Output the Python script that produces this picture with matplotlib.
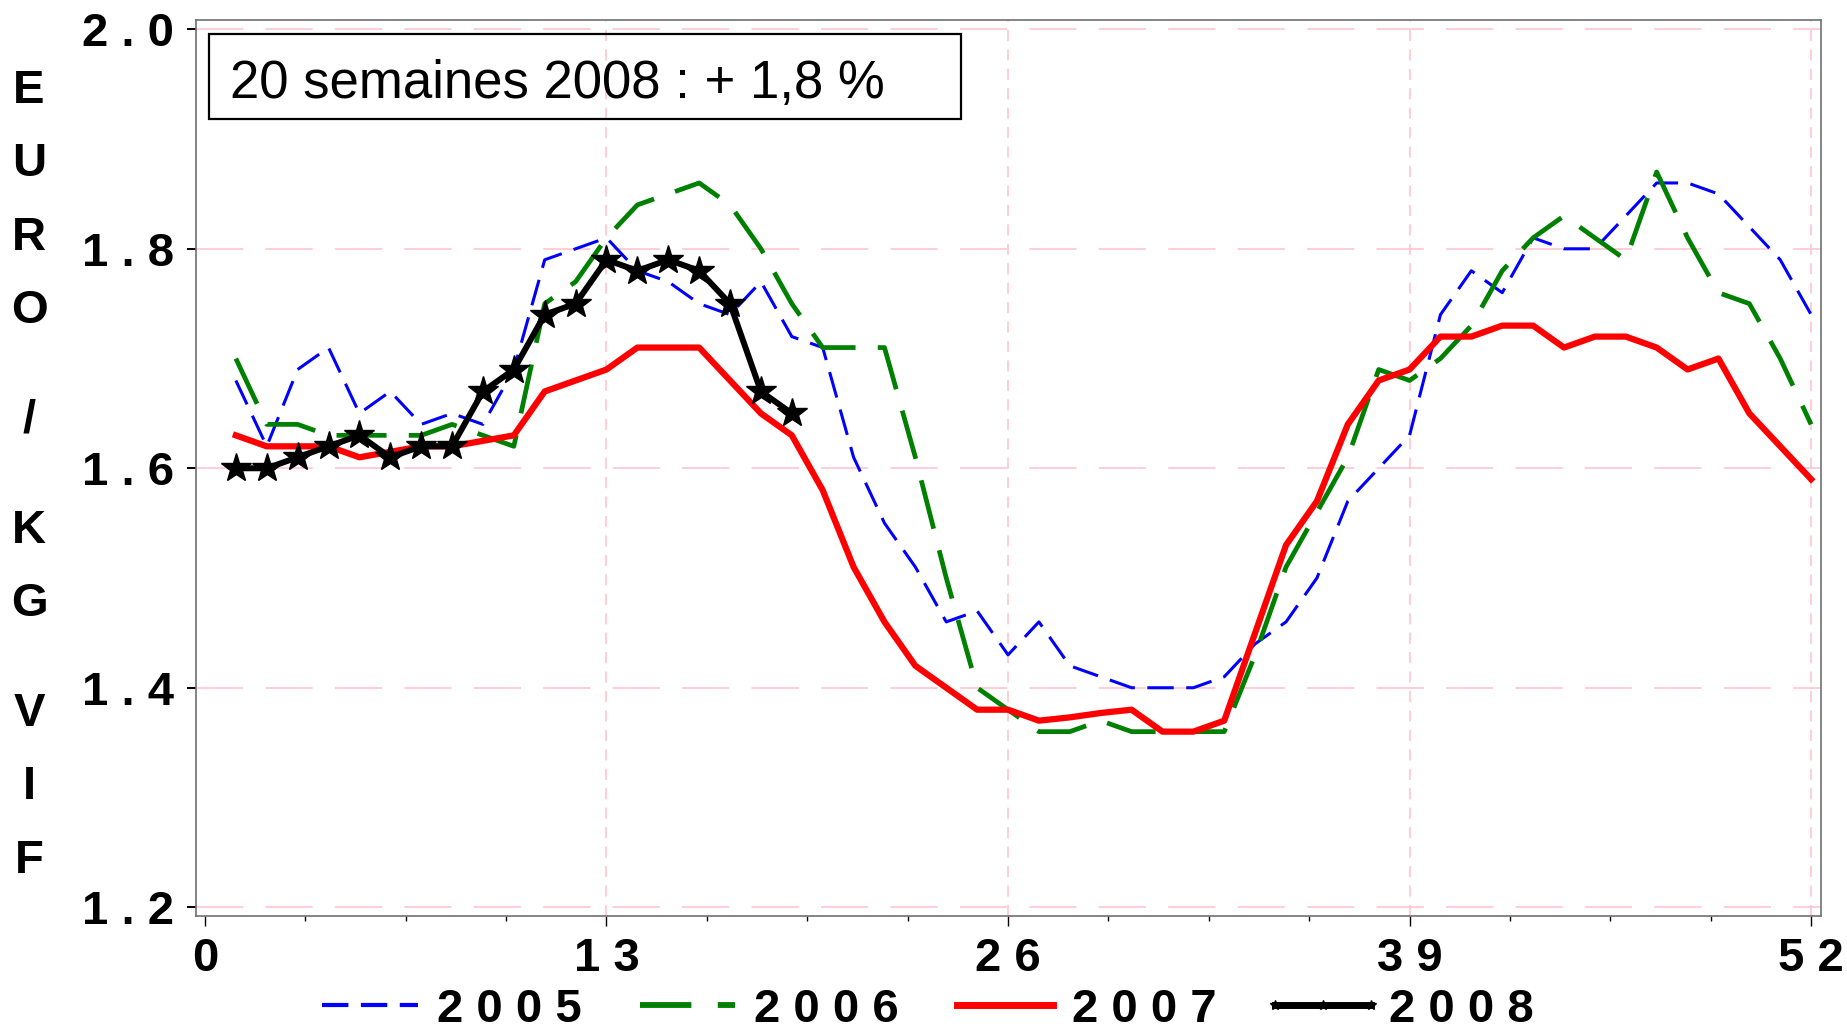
import matplotlib
matplotlib.use("Agg")
import matplotlib.pyplot as plt
from matplotlib.lines import Line2D
from matplotlib.patches import Rectangle
from matplotlib.ticker import MultipleLocator

plt.rcParams['lines.scale_dashes'] = False
plt.rcParams['font.family'] = ['Liberation Sans', 'DejaVu Sans']

# ---------------- data ----------------
weeks = list(range(1, 53))
weeks_2008 = list(range(1, 20))

v2005 = [1.68, 1.62, 1.69, 1.71, 1.65, 1.67, 1.64, 1.65, 1.64, 1.69,
         1.79, 1.80, 1.81, 1.78, 1.77, 1.75, 1.74, 1.77, 1.72, 1.71,
         1.61, 1.55, 1.51, 1.46, 1.47, 1.43, 1.46, 1.42, 1.41, 1.40,
         1.40, 1.40, 1.41, 1.44, 1.46, 1.50, 1.57, 1.60, 1.63, 1.74,
         1.78, 1.76, 1.81, 1.80, 1.80, 1.83, 1.86, 1.86, 1.85, 1.82,
         1.79, 1.74]
v2006 = [1.70, 1.64, 1.64, 1.63, 1.63, 1.63, 1.63, 1.64, 1.63, 1.62,
         1.75, 1.77, 1.81, 1.84, 1.85, 1.86, 1.84, 1.80, 1.75, 1.71,
         1.71, 1.71, 1.61, 1.50, 1.40, 1.38, 1.36, 1.36, 1.37, 1.36,
         1.36, 1.36, 1.36, 1.43, 1.51, 1.56, 1.61, 1.69, 1.68, 1.70,
         1.73, 1.78, 1.81, 1.83, 1.81, 1.79, 1.87, 1.81, 1.76, 1.75,
         1.70, 1.64]
v2007 = [1.63, 1.62, 1.62, 1.62, 1.61, 1.615, 1.62, 1.62, 1.625, 1.63,
         1.67, 1.68, 1.69, 1.71, 1.71, 1.71, 1.68, 1.65, 1.63, 1.58,
         1.51, 1.46, 1.42, 1.40, 1.38, 1.38, 1.37, 1.373, 1.377, 1.38,
         1.36, 1.36, 1.37, 1.45, 1.53, 1.57, 1.64, 1.68, 1.69, 1.72,
         1.72, 1.73, 1.73, 1.71, 1.72, 1.72, 1.71, 1.69, 1.70, 1.65,
         1.62, 1.59]
v2008 = [1.60, 1.60, 1.61, 1.62, 1.63, 1.61, 1.62, 1.62, 1.67, 1.69,
         1.74, 1.75, 1.79, 1.78, 1.79, 1.78, 1.75, 1.67, 1.65]

series_labels = ["2 0 0 5", "2 0 0 6", "2 0 0 7", "2 0 0 8"]
y_ticks = [1.2, 1.4, 1.6, 1.8, 2.0]
y_tick_labels = ["1 . 2", "1 . 4", "1 . 6", "1 . 8", "2 . 0"]
x_ticks = [0, 13, 26, 39, 52]
x_tick_labels = ["0", "1 3", "2 6", "3 9", "5 2"]
ylabel_text = "EURO / KG VIF"
note_text = "20 semaines 2008 : + 1,8 %"

# ---------------- figure ----------------
W, H = 1847, 1031
fig = plt.figure(figsize=(W / 100, H / 100), dpi=100)
ax = fig.add_axes([196 / W, 1 - 916 / H, (1821 - 196) / W, (916 - 20) / H])
ax.set_xlim(-0.29, 52.32)
ax.set_ylim(1.192, 2.0085)

# grid
grid_col = '#FFC0CB'
for yv in y_ticks:
    ax.axhline(yv, color=grid_col, lw=1.1, linestyle=(0, (34, 16)), zorder=0)
for xv in x_ticks[1:]:
    ax.axvline(xv, color=grid_col, lw=1.1, linestyle=(0, (8, 6)), zorder=0)

# series
l05, = ax.plot(weeks, v2005, color='#0000FF', lw=2.2, linestyle=(0, (19, 9)),
               label=series_labels[0], zorder=2)
l06, = ax.plot(weeks, v2006, color='#008000', lw=3.4, linestyle=(0, (36, 16)),
               label=series_labels[1], zorder=3)
l07, = ax.plot(weeks, v2007, color='#FF0000', lw=4.5, linestyle='-',
               label=series_labels[2], zorder=4)
l08, = ax.plot(weeks_2008, v2008, color='black', lw=4.3, marker='*',
               markersize=22, label=series_labels[3], zorder=5)

# axes styling
for s in ax.spines.values():
    s.set_color('#707070')
    s.set_linewidth(1.2)

ax.set_yticks(y_ticks)
ax.set_yticklabels(y_tick_labels, fontsize=34, fontweight='bold')
ax.set_xticks(x_ticks)
ax.set_xticklabels(x_tick_labels, fontsize=34, fontweight='bold')
ax.xaxis.set_minor_locator(MultipleLocator(3.25))
ax.tick_params(axis='y', which='major', length=6.5, width=1.4, pad=9, color='black')
ax.tick_params(axis='x', which='major', length=7, width=1.0, pad=8, color='black')
ax.tick_params(axis='x', which='minor', length=3.5, width=1.0, color='black')

# vertical stacked y-label
step = 73.3
pos = 0.0
for ch in ylabel_text:
    if ch == ' ':
        pos += 0.5
        continue
    fig.text(29 / W, 1 - (103 + pos * step) / H, ch, ha='center', va='baseline',
             fontsize=34, fontweight='bold')
    pos += 1

# annotation box
fig.add_artist(Rectangle((209 / W, 1 - 119 / H), (961 - 209) / W, (119 - 34) / H,
                         transform=fig.transFigure, fill=False,
                         edgecolor='black', lw=1.6))
fig.text(230 / W, 1 - 98 / H, note_text, ha='left', va='baseline', fontsize=38)

# legend
h05 = Line2D([], [], color='#0000FF', lw=3.0, linestyle=(0, (19, 9)))
h06 = Line2D([], [], color='#008000', lw=4.2, linestyle=(0, (37, 19)))
h07 = Line2D([], [], color='#FF0000', lw=5.0)
h08 = Line2D([], [], color='black', lw=5.0, marker='*', markersize=7)
fig.legend([h05, h06, h07, h08], series_labels, loc='center',
           bbox_to_anchor=(921 / W, 1 - 1010 / H), ncol=4, frameon=False,
           prop={'size': 34, 'weight': 'bold'}, handlelength=2.63,
           handletextpad=0.1, columnspacing=0.93, borderpad=0,
           numpoints=3)

fig.savefig('out.png', dpi=100)
